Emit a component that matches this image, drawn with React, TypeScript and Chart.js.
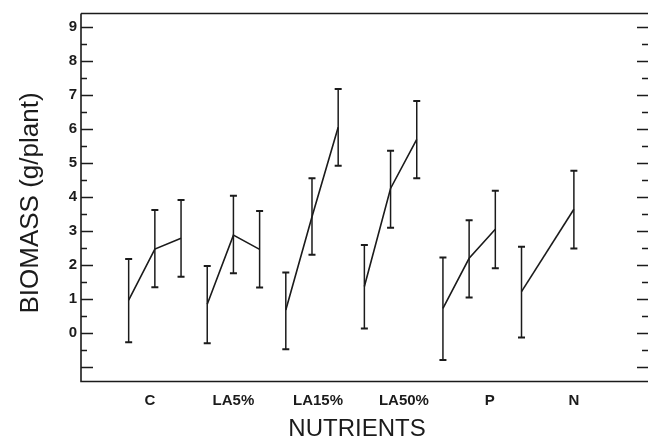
import React, { useEffect, useRef } from "react";
import { Chart, registerables } from "chart.js";

Chart.register(...registerables);

// ---- data ----
const categories = ["C", "LA5%", "LA15%", "LA50%", "P", "N"];
// x positions of each treatment level (slot index along the axis)
const slotPositions = [
  [0, 1, 2],
  [3, 4, 5],
  [6, 7, 8],
  [9, 10, 11],
  [12, 13, 14],
  [15, 17],
];
const meanValues = [
  [0.97, 2.47, 2.79],
  [0.85, 2.88, 2.46],
  [0.68, 3.42, 6.05],
  [1.37, 4.25, 5.69],
  [0.73, 2.2, 3.05],
  [1.22, 3.64],
];
const errorHigh = [
  [2.18, 3.62, 3.91],
  [1.97, 4.04, 3.59],
  [1.78, 4.55, 7.17],
  [2.59, 5.36, 6.82],
  [2.22, 3.32, 4.18],
  [2.54, 4.77],
];
const errorLow = [
  [-0.27, 1.35, 1.66],
  [-0.3, 1.76, 1.34],
  [-0.47, 2.3, 4.92],
  [0.14, 3.1, 4.55],
  [-0.79, 1.05, 1.91],
  [-0.13, 2.49],
];
// where the category labels sit along the slot axis
const categoryTickValues = [0.81, 4.0, 7.23, 10.51, 13.79, 17.0];
const yTickValues = [0, 1, 2, 3, 4, 5, 6, 7, 8, 9];
const yAxisTitle = "BIOMASS (g/plant)";
const xAxisTitle = "NUTRIENTS";

const INK = "#1b1b1b";

const framePlugin = {
  id: "framePlugin",
  afterDraw(chart: any) {
    const { ctx, chartArea, scales } = chart;
    const { left, top, right, bottom } = chartArea;
    const y = scales.y;
    ctx.save();
    ctx.strokeStyle = INK;
    ctx.lineWidth = 1.6;
    ctx.beginPath();
    ctx.moveTo(left, top);
    ctx.lineTo(right, top);
    ctx.moveTo(left, top);
    ctx.lineTo(left, bottom);
    ctx.lineTo(right, bottom);
    ctx.stroke();

    // inward tick marks on both sides
    ctx.lineWidth = 1.5;
    for (let v = -1; v <= 9.001; v += 0.5) {
      const py = Math.round(y.getPixelForValue(v)) + 0.5;
      const major = Math.abs(v - Math.round(v)) < 1e-6;
      ctx.beginPath();
      ctx.moveTo(left, py);
      ctx.lineTo(left + (major ? 12 : 6), py);
      ctx.moveTo(right, py);
      ctx.lineTo(right - (major ? 11 : 6), py);
      ctx.stroke();
    }

    // error bars
    ctx.lineWidth = 1.5;
    chart.data.datasets.forEach((_: any, i: number) => {
      const meta = chart.getDatasetMeta(i);
      meta.data.forEach((pt: any, j: number) => {
        const px = pt.x;
        const yt = y.getPixelForValue(errorHigh[i][j]);
        const yb = y.getPixelForValue(errorLow[i][j]);
        ctx.beginPath();
        ctx.moveTo(px, yt);
        ctx.lineTo(px, yb);
        ctx.stroke();
        ctx.lineWidth = 2;
        ctx.beginPath();
        ctx.moveTo(px - 3.5, yt);
        ctx.lineTo(px + 3.5, yt);
        ctx.moveTo(px - 3.5, yb);
        ctx.lineTo(px + 3.5, yb);
        ctx.stroke();
        ctx.lineWidth = 1.5;
      });
    });

    // axis titles
    ctx.fillStyle = INK;
    ctx.textAlign = "center";
    ctx.textBaseline = "middle";
    ctx.font = "24px 'Liberation Sans', Arial, sans-serif";
    ctx.fillText(xAxisTitle, 357, 429);
    ctx.save();
    ctx.translate(31, 203);
    ctx.rotate(-Math.PI / 2);
    ctx.font = "26px 'Liberation Sans', Arial, sans-serif";
    ctx.fillText(yAxisTitle, 0, 0);
    ctx.restore();
    ctx.restore();
  },
};

export default function App() {
  const canvasRef = useRef<HTMLCanvasElement | null>(null);

  useEffect(() => {
    document.body.style.margin = "0";
    const canvas = canvasRef.current;
    if (!canvas) return;
    const datasets = meanValues.map((vals, i) => ({
      label: categories[i],
      data: vals.map((v, j) => ({ x: slotPositions[i][j], y: v })),
      borderColor: INK,
      borderWidth: 1.6,
      pointRadius: 0,
      tension: 0,
      fill: false,
    }));
    const chart = new Chart(canvas, {
      type: "line",
      data: { datasets },
      options: {
        animation: false,
        responsive: false,
        devicePixelRatio: 1,
        layout: { padding: { top: 13.5, left: 0, right: 0, bottom: 0 } },
        plugins: { legend: { display: false }, tooltip: { enabled: false } },
        scales: {
          x: {
            type: "linear",
            min: -1.82,
            max: 19.83,
            grid: { display: false, drawTicks: false },
            border: { display: false },
            afterBuildTicks: (scale: any) => {
              scale.ticks = categoryTickValues.map((v) => ({ value: v }));
            },
            afterFit: (scale: any) => {
              scale.height = 59.5;
            },
            ticks: {
              autoSkip: false,
              maxRotation: 0,
              padding: 10,
              color: INK,
              font: { family: "'Liberation Sans', Arial, sans-serif", size: 15, weight: "bold" },
              callback: (_v: any, idx: number) => categories[idx],
            },
          },
          y: {
            type: "linear",
            min: -1.42,
            max: 9.39,
            grid: { display: false, drawTicks: false },
            border: { display: false },
            afterBuildTicks: (scale: any) => {
              scale.ticks = yTickValues.map((v) => ({ value: v }));
            },
            afterFit: (scale: any) => {
              scale.width = 81;
            },
            ticks: {
              padding: 4,
              color: INK,
              font: { family: "'Liberation Sans', Arial, sans-serif", size: 15, weight: "bold" },
              callback: (v: any) => String(v),
            },
          },
        },
      },
      plugins: [framePlugin],
    } as any);
    return () => chart.destroy();
  }, []);

  return (
    <canvas
      ref={canvasRef}
      width={648}
      height={441}
      style={{ display: "block", width: 648, height: 441 }}
    />
  );
}
